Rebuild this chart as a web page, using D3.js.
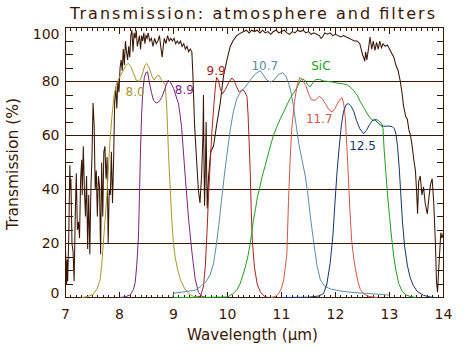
<!DOCTYPE html>
<html><head><meta charset="utf-8">
<script src="https://cdn.jsdelivr.net/npm/d3@7"></script>
<style>html,body{margin:0;padding:0;background:#fff;}svg{display:block;}</style>
</head><body>
<svg id="c" width="467" height="356"></svg>
<script>
const titleText = "Transmission: atmosphere and filters";
const xLabel = "Wavelength (\u03bcm)";
const yLabel = "Transmission (%)";
const xTicks = [7, 8, 9, 10, 11, 12, 13, 14];
const yTicks = [0, 20, 40, 60, 80, 100];
const gridVals = [20, 40, 60, 80];

const atm = [[7.00,18],[7.01,12],[7.02,5],[7.03,14],[7.04,6],[7.06,22],[7.08,49],[7.09,40],[7.10,44],[7.12,20],[7.14,17],[7.16,6],[7.18,30],[7.20,46],[7.22,25],[7.24,28],[7.26,22],[7.28,44],[7.30,51],[7.31,38],[7.33,56],[7.35,40],[7.37,30],[7.39,45],[7.41,18],[7.43,38],[7.45,16],[7.47,40],[7.49,52],[7.51,72],[7.53,64],[7.55,40],[7.57,47],[7.59,30],[7.61,45],[7.63,41],[7.65,16],[7.67,50],[7.69,30],[7.71,54],[7.73,56],[7.75,44],[7.77,52],[7.79,20],[7.81,40],[7.83,38],[7.85,54],[7.87,35],[7.89,50],[7.91,72],[7.93,78],[7.95,70],[7.97,80],[7.99,76],[8.01,85],[8.03,88],[8.05,84],[8.07,92],[8.09,86],[8.11,95],[8.13,91],[8.15,88],[8.17,93],[8.19,89],[8.21,97],[8.23,99],[8.25,91],[8.27,98],[8.29,96],[8.31,99],[8.33,93],[8.35,95],[8.37,97],[8.39,92],[8.41,97],[8.43,95],[8.45,98],[8.47,94],[8.49,97],[8.51,96],[8.53,98],[8.56,95],[8.59,96],[8.62,93],[8.65,96],[8.68,94],[8.71,95],[8.74,97],[8.77,92],[8.79,89],[8.81,93],[8.83,96],[8.86,94],[8.89,97],[8.92,95],[8.95,96],[8.98,95],[9.01,96],[9.04,94],[9.07,95],[9.10,94],[9.13,95],[9.16,93],[9.19,94],[9.22,92],[9.25,93],[9.28,91],[9.31,92],[9.34,91],[9.36,82],[9.39,64],[9.43,50],[9.46,40],[9.49,35],[9.52,45],[9.545,60],[9.555,75],[9.565,50],[9.575,34],[9.59,48],[9.605,65],[9.615,45],[9.625,33],[9.65,45],[9.69,54],[9.74,56],[9.80,64],[9.865,72],[9.926,82],[9.99,88],[10.05,93],[10.10,95],[10.17,97],[10.25,98],[10.30,98.5],[10.35,99],[10.40,98],[10.45,99],[10.50,98.5],[10.55,99],[10.60,98],[10.65,99],[10.70,98],[10.75,98.5],[10.80,97.5],[10.85,98.5],[10.90,99],[10.95,98],[11.00,98.5],[11.05,99],[11.10,98],[11.15,97.5],[11.20,98.5],[11.25,98],[11.30,99],[11.35,98.5],[11.40,99],[11.45,98],[11.50,98.5],[11.55,97.5],[11.60,98],[11.65,97.5],[11.70,97],[11.73,96],[11.76,96.5],[11.80,98],[11.85,97.5],[11.90,98],[11.95,97],[12.00,97.5],[12.05,97],[12.10,96.5],[12.15,97],[12.20,96.5],[12.25,96],[12.30,95.5],[12.35,95],[12.40,95],[12.45,94],[12.50,90],[12.52,89],[12.54,87.5],[12.56,91],[12.58,88],[12.61,92],[12.64,96.5],[12.67,92],[12.70,95],[12.73,91.5],[12.76,94.5],[12.79,92],[12.82,95],[12.85,92.5],[12.88,94],[12.92,93],[12.96,93.5],[13.00,92],[13.04,90.5],[13.08,89],[13.12,86],[13.16,84],[13.20,80],[13.23,76],[13.26,71],[13.30,67],[13.33,66],[13.36,62],[13.39,60],[13.42,56],[13.45,51],[13.48,47],[13.50,40],[13.52,31],[13.54,43],[13.57,45],[13.60,38],[13.63,41],[13.66,35],[13.70,31],[13.73,37],[13.76,42],[13.79,44],[13.82,35],[13.85,20],[13.87,6],[13.89,2],[13.91,10],[13.93,17],[13.95,24],[13.97,22],[14.00,24]];

const f80 = [[7.30,0],[7.40,0.3],[7.50,1],[7.58,3],[7.64,6.5],[7.67,12],[7.70,20],[7.73,28],[7.76,36],[7.79,46],[7.82,57],[7.86,67],[7.90,75],[7.95,79.5],[8.01,82],[8.07,84],[8.12,86],[8.165,86.7],[8.21,85.5],[8.26,83],[8.31,80.5],[8.37,80],[8.42,82.5],[8.47,86],[8.505,86.7],[8.55,85],[8.60,82],[8.64,80.5],[8.69,82],[8.73,82.3],[8.78,80.5],[8.845,79],[8.876,70],[8.91,52],[8.94,40],[8.97,28],[9.00,20],[9.03,15],[9.08,10],[9.13,6.5],[9.20,3.5],[9.28,1.5],[9.36,0.5],[9.45,0]];
const f89 = [[8.00,0],[8.10,0.2],[8.20,1],[8.26,3],[8.29,5.5],[8.32,12],[8.35,22],[8.37,38],[8.39,55],[8.41,68],[8.43,76],[8.46,81.5],[8.49,83.3],[8.52,83.6],[8.55,80],[8.59,76],[8.63,73],[8.68,72],[8.73,72.5],[8.78,74],[8.845,77.5],[8.90,80.5],[8.95,79.5],[9.00,77.5],[9.04,75],[9.09,72],[9.12,68],[9.15,63],[9.18,55],[9.22,44],[9.28,29],[9.34,17],[9.40,7],[9.46,2],[9.52,0.5],[9.60,0]];
const f99 = [[9.40,0],[9.50,0.5],[9.555,4],[9.59,12],[9.62,24],[9.65,38],[9.68,50],[9.71,61],[9.75,72],[9.78,79],[9.80,81.5],[9.83,80.5],[9.87,77],[9.91,75.5],[9.96,77],[10.02,79.5],[10.08,81.3],[10.12,80.5],[10.17,78],[10.22,76],[10.27,77],[10.31,76.5],[10.36,74.5],[10.38,68],[10.40,58],[10.42,47],[10.44,32],[10.46,21],[10.50,11],[10.55,5],[10.61,2],[10.68,0.5],[10.75,0]];
const f107 = [[8.99,0.3],[9.00,1.6],[9.20,2.1],[9.40,2.7],[9.50,4],[9.60,5.8],[9.68,8.5],[9.74,12.5],[9.79,19],[9.84,27],[9.89,36],[9.94,45],[9.99,53],[10.05,62],[10.11,69],[10.17,73.5],[10.24,76],[10.33,78],[10.42,80.5],[10.50,82.5],[10.55,83.3],[10.61,84],[10.66,82.5],[10.73,80.5],[10.80,79.8],[10.86,80.5],[10.94,82.5],[11.02,83.3],[11.08,82],[11.13,79.5],[11.17,76.5],[11.22,71],[11.27,64],[11.32,57],[11.38,51],[11.44,45],[11.49,38],[11.54,29],[11.60,20],[11.66,11.5],[11.72,6.5],[11.80,4.2],[11.90,3.2],[12.09,2.4],[12.30,1.9],[12.58,1.5],[12.80,1.2],[12.99,0.9]];
const fSiC = [[9.00,0],[9.50,0],[10.00,0.2],[10.11,1.5],[10.18,3],[10.235,5.2],[10.28,8],[10.33,11.3],[10.38,15.5],[10.42,20],[10.45,24],[10.48,28.6],[10.52,33],[10.556,37.3],[10.60,41],[10.64,44.7],[10.70,49],[10.79,55.8],[10.85,60],[10.92,63.5],[10.98,66.3],[11.04,68.7],[11.10,71.3],[11.16,73.7],[11.22,75.6],[11.29,77.8],[11.34,80],[11.38,81],[11.43,80.5],[11.48,79],[11.53,78],[11.58,79.5],[11.63,80.7],[11.70,80.8],[11.78,80.2],[11.86,80],[11.95,79.8],[12.03,79.4],[12.12,79.2],[12.21,78.8],[12.27,78],[12.33,76.8],[12.40,75],[12.46,72.5],[12.52,70.5],[12.58,68.3],[12.64,66.5],[12.70,65.5],[12.75,66],[12.80,65.4],[12.85,64.5],[12.88,62.5],[12.90,55],[12.93,47],[12.96,39],[13.00,30],[13.04,22],[13.08,15],[13.12,10],[13.17,5.2],[13.23,2.5],[13.30,1],[13.40,0.3],[13.50,0]];
const f117 = [[10.80,0],[10.88,0.3],[10.95,1.5],[11.00,3.5],[11.04,6.5],[11.07,11],[11.10,16.5],[11.13,36],[11.16,51],[11.19,62.5],[11.24,72.5],[11.29,78.6],[11.34,81.5],[11.39,80.5],[11.45,78.5],[11.50,75.5],[11.55,73.3],[11.62,73],[11.70,74.5],[11.76,73.5],[11.82,71.5],[11.88,69.5],[11.94,68.7],[11.99,70],[12.04,72],[12.09,73.6],[12.12,74],[12.15,72],[12.18,67],[12.21,56],[12.24,44],[12.27,31],[12.30,21],[12.34,14],[12.37,10.5],[12.42,5.5],[12.46,3],[12.53,1.2],[12.62,0.4],[12.77,0]];
const f125 = [[11.00,0],[11.50,0.1],[11.70,0.6],[11.78,1.5],[11.84,5],[11.90,12.6],[11.95,22.4],[11.99,35],[12.03,47],[12.07,56],[12.11,64],[12.15,69],[12.20,71.5],[12.24,71.8],[12.29,70.8],[12.34,68.8],[12.39,65.5],[12.45,62.5],[12.52,60.7],[12.57,61.8],[12.63,64],[12.68,65.5],[12.73,65.9],[12.79,64.5],[12.85,63.6],[12.92,63.4],[12.99,63.5],[13.05,63.3],[13.09,62.5],[13.12,60.5],[13.15,55.8],[13.18,48],[13.21,38],[13.24,28],[13.28,19],[13.33,12],[13.38,7.5],[13.44,4.5],[13.51,2.3],[13.63,0.8],[13.75,0.2],[13.85,0]];

const filterNames = ["8.0", "8.9", "9.9", "10.7", "SiC", "11.7", "12.5"];
const filterSeries = [f80, f89, f99, f107, fSiC, f117, f125];

// presentation
const ink = "#3a1604";
const colors = ["#a8982c", "#7c2380", "#a3241c", "#5b8ca6", "#1f9e1f", "#d2574a", "#163468"];
const labelAnchors = [[8.29,74.6],[9.20,75.5],[9.79,82.3],[10.69,84.2],[11.73,84.2],[11.70,64.5],[12.50,54.6]];
const font = "'DejaVu Sans', sans-serif";

const svg = d3.select("#c");
const x = d3.scaleLinear().domain([7, 14]).range([65.5, 443.5]);
const y = d3.scaleLinear().domain([0, 100]).range([297.5, 27.5]);

svg.append("g").attr("shape-rendering","crispEdges").selectAll("line").data(gridVals).join("line")
  .attr("x1", x(7)).attr("x2", x(14)).attr("y1", d => y(d)).attr("y2", d => y(d))
  .attr("stroke", ink).attr("stroke-width", 1);

function styleAxis(g) {
  g.attr("shape-rendering","crispEdges");
  g.select(".domain").remove();
  g.selectAll("line").attr("stroke", ink);
  g.selectAll("text").attr("fill", ink).attr("font-family", font).attr("font-size", 14);
}
const minorX = d3.range(70, 141).map(d => d / 10);
const minorY = d3.range(0, 101, 5);

svg.append("g").attr("transform", `translate(0,${y(0)})`)
  .call(d3.axisTop(x).tickValues(minorX).tickSize(3).tickFormat("").offset(0)).call(styleAxis);
svg.append("g").attr("transform", `translate(0,${y(0)})`)
  .call(d3.axisTop(x).tickValues(xTicks).tickSize(6).tickFormat("").offset(0)).call(styleAxis);
svg.append("g").attr("transform", `translate(0,${y(0)})`)
  .call(d3.axisBottom(x).tickValues(xTicks).tickSize(0).tickPadding(12).tickFormat(d3.format("d")).offset(0)).call(styleAxis);
svg.append("g").attr("transform", `translate(0,${y(100)})`)
  .call(d3.axisBottom(x).tickValues(minorX).tickSize(3).tickFormat("").offset(0)).call(styleAxis);
svg.append("g").attr("transform", `translate(0,${y(100)})`)
  .call(d3.axisBottom(x).tickValues(xTicks).tickSize(6).tickFormat("").offset(0)).call(styleAxis);
svg.append("g").attr("transform", `translate(${x(7)},0)`)
  .call(d3.axisRight(y).tickValues(minorY).tickSize(7).tickFormat("").offset(0)).call(styleAxis);
const yl = svg.append("g").attr("transform", `translate(${x(7)},0)`)
  .call(d3.axisLeft(y).tickValues(yTicks).tickSize(0).tickPadding(6).tickFormat(d3.format("d")).offset(0)).call(styleAxis);
yl.selectAll("text").attr("dy", d => d === 100 ? "0.85em" : d === 0 ? "0.05em" : "0.35em");
svg.append("g").attr("transform", `translate(${x(14)},0)`)
  .call(d3.axisLeft(y).tickValues(minorY).tickSize(7).tickFormat("").offset(0)).call(styleAxis);

svg.append("rect").attr("x", x(7)).attr("y", y(100)).attr("width", x(14) - x(7)).attr("height", y(0) - y(100))
  .attr("fill", "none").attr("stroke", ink).attr("shape-rendering","crispEdges");

const line = d3.line().x(d => x(d[0])).y(d => y(d[1]));

svg.append("path").datum(atm).attr("d", line).attr("fill", "none").attr("stroke", ink).attr("stroke-width", 1.05);

svg.append("g").selectAll("path").data(filterSeries).join("path")
  .attr("d", line).attr("fill", "none").attr("stroke", (d, i) => colors[i]).attr("stroke-width", 1);

svg.append("g").selectAll("text").data(filterNames).join("text")
  .attr("x", (d, i) => x(labelAnchors[i][0])).attr("y", (d, i) => y(labelAnchors[i][1]))
  .attr("text-anchor", "middle").attr("font-family", font).attr("font-size", 12)
  .attr("fill", (d, i) => colors[i]).text(d => d);

svg.append("text").attr("x", 252.5).attr("y", 18.5).attr("text-anchor", "middle")
  .attr("font-family", font).attr("font-size", 16).attr("fill", ink)
  .attr("textLength", 365).attr("lengthAdjust", "spacing").text(titleText);
svg.append("text").attr("x", 252.5).attr("y", 339.5).attr("text-anchor", "middle")
  .attr("font-family", font).attr("font-size", 15).attr("fill", ink)
  .attr("textLength", 131).attr("lengthAdjust", "spacingAndGlyphs").text(xLabel);
svg.append("text").attr("transform", "translate(17.5,164) rotate(-90)").attr("text-anchor", "middle")
  .attr("font-family", font).attr("font-size", 15).attr("fill", ink)
  .attr("textLength", 132).attr("lengthAdjust", "spacingAndGlyphs").text(yLabel);
</script>
</body></html>
